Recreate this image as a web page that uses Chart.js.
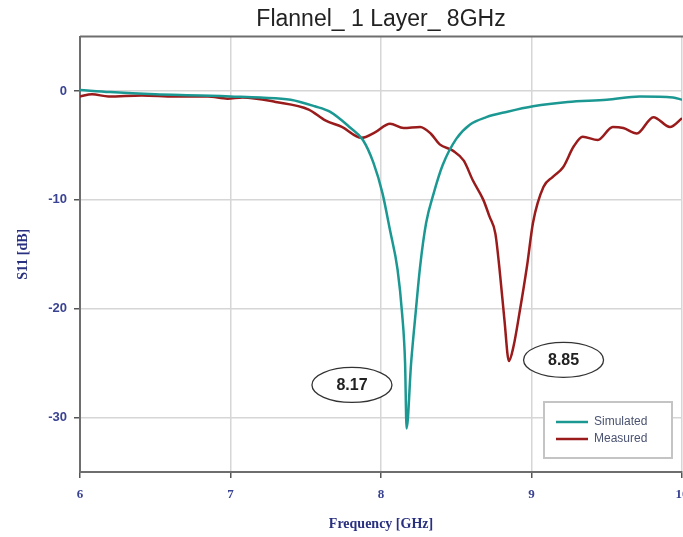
<!DOCTYPE html>
<html>
<head>
<meta charset="utf-8">
<script src="https://cdn.jsdelivr.net/npm/chart.js@4.4.1/dist/chart.umd.min.js"></script>
<style>
  html, body { margin: 0; padding: 0; background: #fff; overflow: hidden; }
  #wrap { width: 683px; height: 537px; overflow: hidden; position: relative; }
  #box { width: 700px; height: 537px; position: absolute; left: 0; top: 0; }
</style>
</head>
<body>
<div id="wrap"><div id="box"><canvas id="c"></canvas></div></div>
<script>
// ---- data ----
const xTicks = [6, 7, 8, 9, 10];
const yTicks = [-30, -20, -10, 0];

const simFreq = [6.0, 6.2, 6.5, 6.8, 7.0, 7.2, 7.4, 7.56, 7.66, 7.79, 7.88, 7.95, 8.01, 8.06, 8.11, 8.14, 8.16, 8.17, 8.20, 8.23, 8.26, 8.30, 8.35, 8.41, 8.50, 8.59, 8.70, 8.84, 9.01, 9.24, 9.50, 9.72, 9.94, 10.0];
const simS11 = [0.1, -0.1, -0.3, -0.4, -0.5, -0.6, -0.8, -1.4, -1.9, -3.3, -4.5, -6.6, -9.4, -12.8, -16.4, -20.4, -25.0, -31.0, -25.0, -20.4, -16.1, -12.1, -9.4, -6.8, -4.4, -3.1, -2.4, -1.9, -1.4, -1.0, -0.8, -0.5, -0.6, -0.8];

const measFreq = [6.0, 6.08, 6.19, 6.41, 6.63, 6.85, 6.98, 7.08, 7.30, 7.52, 7.63, 7.74, 7.87, 7.96, 8.06, 8.15, 8.26, 8.33, 8.39, 8.48, 8.55, 8.61, 8.68, 8.72, 8.76, 8.79, 8.82, 8.85, 8.88, 8.92, 8.97, 9.01, 9.08, 9.14, 9.21, 9.28, 9.34, 9.44, 9.54, 9.61, 9.70, 9.81, 9.92, 10.0];
const measS11 = [-0.5, -0.3, -0.5, -0.4, -0.5, -0.5, -0.7, -0.6, -1.0, -1.7, -2.7, -3.3, -4.3, -3.8, -3.0, -3.4, -3.3, -3.9, -4.9, -5.5, -6.4, -8.2, -10.0, -11.5, -13.1, -16.7, -21.0, -24.8, -23.5, -20.4, -16.1, -12.1, -8.8, -7.9, -7.0, -5.1, -4.2, -4.5, -3.3, -3.4, -3.9, -2.4, -3.3, -2.5];

const seriesNames = ['Simulated', 'Measured'];
const calloutLabels = ['8.17', '8.85'];
const calloutFreq = [7.807, 9.213];
const calloutS11 = [-27.0, -24.7];

// ---- styling ----
const SIM_COLOR = '#1c9893';
const MEAS_COLOR = '#9a1b1b';
const LABEL_COLOR = '#3a4392';
const TITLE_COLOR = '#2a3080';

const extras = {
  id: 'extras',
  afterDraw(chart) {
    const ctx = chart.ctx;
    const a = chart.chartArea;
    const xs = chart.scales.x, ys = chart.scales.y;
    ctx.save();
    // top border
    ctx.strokeStyle = '#6e6e6e';
    ctx.lineWidth = 2;
    ctx.beginPath();
    ctx.moveTo(a.left, a.top);
    ctx.lineTo(a.right + 2, a.top);
    ctx.stroke();

    // callouts
    for (let i = 0; i < calloutLabels.length; i++) {
      const cx = xs.getPixelForValue(calloutFreq[i]);
      const cy = ys.getPixelForValue(calloutS11[i]);
      ctx.fillStyle = '#fff';
      ctx.strokeStyle = '#333';
      ctx.lineWidth = 1.3;
      ctx.beginPath();
      ctx.ellipse(cx, cy, 40, 17.5, 0, 0, Math.PI * 2);
      ctx.fill();
      ctx.stroke();
      ctx.fillStyle = '#222';
      ctx.font = 'bold 16px "Liberation Sans", Arial, sans-serif';
      ctx.textAlign = 'center';
      ctx.textBaseline = 'middle';
      ctx.fillText(calloutLabels[i], cx, cy + 1);
    }

    // legend
    const lw = 128, lh = 56;
    const lx = a.right - 10 - lw;
    const ly = a.bottom - 14 - lh;
    ctx.fillStyle = '#fff';
    ctx.fillRect(lx, ly, lw, lh);
    ctx.strokeStyle = '#c4c4c4';
    ctx.lineWidth = 2;
    ctx.strokeRect(lx, ly, lw, lh);
    const cols = [SIM_COLOR, MEAS_COLOR];
    ctx.font = '12px "Liberation Sans", Arial, sans-serif';
    ctx.textAlign = 'left';
    ctx.textBaseline = 'middle';
    for (let i = 0; i < seriesNames.length; i++) {
      const yy = ly + 20 + i * 17;
      ctx.strokeStyle = cols[i];
      ctx.lineWidth = 2.5;
      ctx.beginPath();
      ctx.moveTo(lx + 12, yy);
      ctx.lineTo(lx + 44, yy);
      ctx.stroke();
      ctx.fillStyle = '#4a5370';
      ctx.fillText(seriesNames[i], lx + 50, yy);
    }
    ctx.restore();
  }
};

new Chart(document.getElementById('c'), {
  type: 'line',
  data: {
    datasets: [
      {
        label: seriesNames[0],
        data: simFreq.map((f, i) => ({ x: f, y: simS11[i] })),
        borderColor: SIM_COLOR,
        borderWidth: 2.5,
        pointRadius: 0,
        cubicInterpolationMode: 'monotone',
        fill: false
      },
      {
        label: seriesNames[1],
        data: measFreq.map((f, i) => ({ x: f, y: measS11[i] })),
        borderColor: MEAS_COLOR,
        borderWidth: 2.5,
        pointRadius: 0,
        cubicInterpolationMode: 'monotone',
        fill: false
      }
    ]
  },
  options: {
    responsive: true,
    maintainAspectRatio: false,
    animation: false,
    layout: { padding: { left: 0, right: 18, top: 0, bottom: 0 } },
    plugins: {
      legend: { display: false },
      tooltip: { enabled: false },
      title: {
        display: true,
        text: 'Flannel_ 1 Layer_ 8GHz',
        fullSize: false,
        color: '#222',
        font: { family: '"Liberation Sans", Arial, sans-serif', size: 23, weight: 'normal', lineHeight: 1.2 },
        padding: { top: 6, bottom: 3 }
      }
    },
    scales: {
      x: {
        type: 'linear',
        min: 6, max: 10,
        afterBuildTicks: s => { s.ticks = xTicks.map(v => ({ value: v })); },
        afterFit: s => { s.height = 65; },
        ticks: {
          color: LABEL_COLOR,
          padding: 9,
          maxRotation: 0,
          font: { family: '"Liberation Serif", "Times New Roman", serif', size: 13, weight: 'bold' }
        },
        grid: { color: '#d6d6d6', lineWidth: 1.5, tickColor: '#555', tickLength: 6 },
        border: { color: '#6e6e6e', width: 2 },
        title: {
          display: true,
          text: 'Frequency [GHz]',
          color: TITLE_COLOR,
          font: { family: '"Liberation Serif", "Times New Roman", serif', size: 14, weight: 'bold', lineHeight: 1.2 },
          padding: { top: 4, bottom: 4 }
        }
      },
      y: {
        type: 'linear',
        min: -35, max: 5,
        afterBuildTicks: s => { s.ticks = yTicks.map(v => ({ value: v })); },
        afterFit: s => { s.width = 80; },
        ticks: {
          color: LABEL_COLOR,
          padding: 7,
          font: { family: '"Liberation Sans", Arial, sans-serif', size: 13, weight: 'bold' }
        },
        grid: { color: '#d6d6d6', lineWidth: 1.5, tickColor: '#555', tickLength: 6 },
        border: { color: '#6e6e6e', width: 2 },
        title: {
          display: true,
          text: 'S11 [dB]',
          color: TITLE_COLOR,
          font: { family: '"Liberation Serif", "Times New Roman", serif', size: 14, weight: 'bold', lineHeight: 1.2 },
          padding: { top: 15, bottom: 15 }
        }
      }
    }
  },
  plugins: [extras]
});
</script>
</body>
</html>
